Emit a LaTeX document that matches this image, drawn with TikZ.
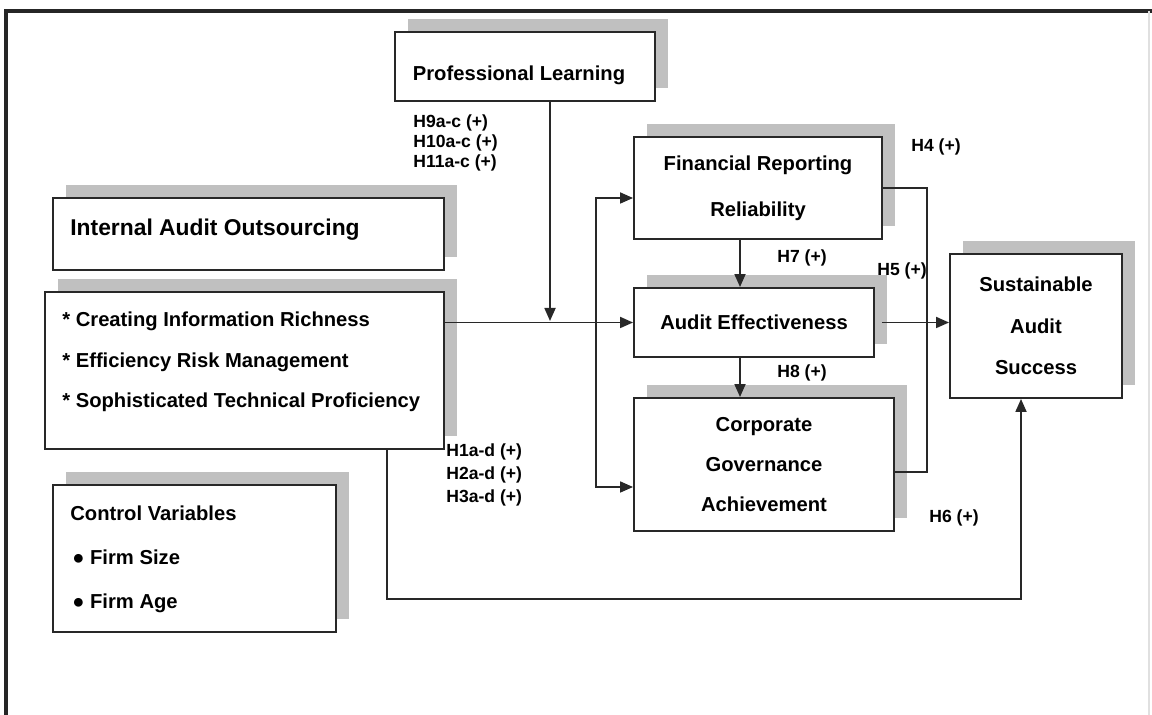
\documentclass[tikz,border=0pt]{standalone}
\usepackage{fontspec}
\setmainfont{Liberation Sans}
\usetikzlibrary{arrows.meta,shadows}
\definecolor{lineink}{RGB}{40,40,40}
\definecolor{shadowgray}{RGB}{192,192,192}

\begin{document}
\begin{tikzpicture}[x=0.02cm,y=-0.02cm,
  varbox/.style={draw=lineink, line width=1.1pt, fill=white, inner sep=2pt,
    general shadow={fill=shadowgray, shadow xshift=0.26cm, shadow yshift=0.26cm}},
  boxtext/.style={font=\fontsize{11.5pt}{23pt}\selectfont\bfseries, align=center},
  sidetext/.style={anchor=west, inner sep=0pt, align=left},
  hyp/.style={font=\fontsize{10pt}{12pt}\selectfont\bfseries, anchor=west, inner sep=0pt, align=left},
  link/.style={draw=lineink, line width=1pt},
  linkarrow/.style={link, -{Triangle[length=2.6mm,width=2.2mm]}},
  twoway/.style={link, {Triangle[length=2.6mm,width=2.2mm]}-{Triangle[length=2.6mm,width=2.2mm]}}]
\useasboundingbox (0,0) rectangle (1152,715);

\draw[black!85, line width=1.8pt] (6,715) -- (6,11) -- (1152,11);
\draw[black!12, line width=0.6pt] (1149,11) -- (1149,715);

\node (learn) at (525,66.5) [varbox, minimum width=5.2cm, minimum height=1.38cm] {};
\node (iao) at (248.5,234) [varbox, minimum width=7.82cm, minimum height=1.44cm] {};
\node (dims) at (244.5,370.5) [varbox, minimum width=7.98cm, minimum height=3.14cm] {};
\node (ctrl) at (194.5,558.5) [varbox, minimum width=5.66cm, minimum height=2.94cm] {};
\node (frr) at (758,188) [varbox, boxtext, font=\fontsize{11.5pt}{26pt}\selectfont\bfseries,
  minimum width=4.96cm, minimum height=2.04cm] {Financial Reporting\\Reliability};
\node (ae) at (754,322.5) [varbox, boxtext, minimum width=4.8cm, minimum height=1.38cm] {Audit Effectiveness};
\node (cga) at (764,464.5) [varbox, boxtext, font=\fontsize{11.5pt}{22.7pt}\selectfont\bfseries,
  minimum width=5.2cm, minimum height=2.66cm] {Corporate\\Governance\\Achievement};
\node (sas) at (1036,326) [varbox, boxtext, font=\fontsize{11.5pt}{23.5pt}\selectfont\bfseries,
  minimum width=3.44cm, minimum height=2.88cm] {Sustainable\\Audit\\Success};

\node (learnTxt) at (519,75) [boxtext] {Professional Learning};
\node (iaoTxt) at (70,230) [sidetext, font=\fontsize{13pt}{16pt}\selectfont\bfseries] {Internal Audit Outsourcing};
\node (dimsTxt) at (62,362) [sidetext, font=\fontsize{11.5pt}{23pt}\selectfont\bfseries]
  {* Creating Information Richness\\* Efficiency Risk Management\\* Sophisticated Technical Proficiency};
\node (ctrlTxt) at (70,559) [sidetext, font=\fontsize{11.5pt}{25pt}\selectfont\bfseries]
  {Control Variables\\\hspace{0.04cm}● Firm Size\\\hspace{0.04cm}● Firm Age};

\node (h9) at (413,143) [hyp, font=\fontsize{10pt}{11.6pt}\selectfont\bfseries] {H9a-c (+)\\H10a-c (+)\\H11a-c (+)};
\node (h1) at (446,475) [hyp, font=\fontsize{10pt}{13pt}\selectfont\bfseries] {H1a-d (+)\\H2a-d (+)\\H3a-d (+)};
\node (h4) at (911,147) [hyp] {H4 (+)};
\node (h5) at (877,271) [hyp] {H5 (+)};
\node (h6) at (929,518) [hyp] {H6 (+)};
\node (h7) at (777,258) [hyp] {H7 (+)};
\node (h8) at (777,373) [hyp] {H8 (+)};

\coordinate (drop) at (550,321);
\coordinate (busTop) at (596,198);
\coordinate (busBot) at (596,487);
\coordinate (stem) at (740,300);
\coordinate (rail) at (927,300);
\coordinate (cgaTap) at ([yshift=-0.15cm]cga.east);
\coordinate (floorL) at (387,599);
\coordinate (floorR) at (1021,599);

\draw[linkarrow] (learn.south -| drop) -- (drop);
\draw[linkarrow] (dims.east |- ae.west) -- (ae.west);
\draw[twoway] (busBot -| cga.west) -- (busBot) -- (busTop) -- (busTop -| frr.west);
\draw[linkarrow] (frr.south -| stem) -- (ae.north -| stem);
\draw[linkarrow] (ae.south -| stem) -- (cga.north -| stem);
\draw[linkarrow, shorten <=0.14cm] (ae.east) -- (ae.east -| sas.west);
\draw[link] (frr.east) -- (frr.east -| rail) -- (rail |- cgaTap) -- (cgaTap);
\draw[linkarrow] (dims.south -| floorL) -- (floorL) -- (floorR) -- (floorR |- sas.south);
\end{tikzpicture}
\end{document}
